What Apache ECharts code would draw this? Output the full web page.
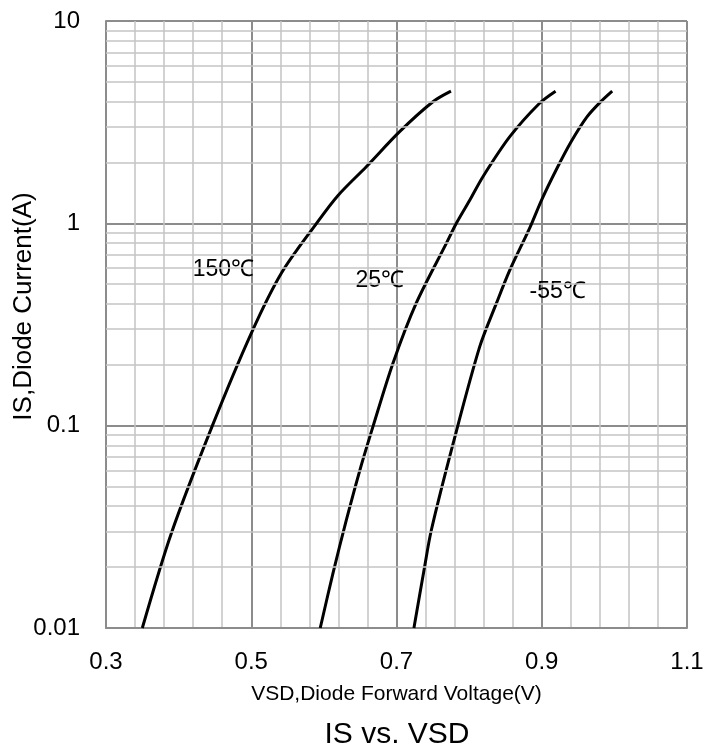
<!DOCTYPE html>
<html>
<head>
<meta charset="utf-8">
<script src="https://cdn.jsdelivr.net/npm/echarts@6/dist/echarts.min.js"></script>
<style>
  html, body { margin: 0; padding: 0; background: #fff; }
  #is-vsd { width: 707px; height: 751px; }
</style>
</head>
<body>
<div id="is-vsd"></div>
<script>
// curve names
const temps = ['150℃', '25℃', '-55℃']

// VSD (V) / IS (A)
const vf150 = [0.35, 0.39, 0.4465, 0.5, 0.5416, 0.5899, 0.6192, 0.6584, 0.7043, 0.7502, 0.775]
const is150 = [0.01, 0.0294, 0.1, 0.286, 0.568, 1.0, 1.37, 1.905, 2.84, 3.99, 4.5]

const vf25 = [0.595, 0.6129, 0.6308, 0.6501, 0.668, 0.695, 0.727, 0.7686, 0.7824, 0.8008, 0.819, 0.856, 0.897, 0.919]
const is25 = [0.01, 0.0189, 0.034, 0.0612, 0.1, 0.203, 0.402, 0.796, 1.0, 1.3, 1.7, 2.68, 3.92, 4.5]

const vfM55 = [0.724, 0.7387, 0.748, 0.778, 0.8145, 0.8375, 0.856, 0.8835, 0.8996, 0.9203, 0.941, 0.962, 0.98, 0.997]
const isM55 = [0.01, 0.0201, 0.0305, 0.0817, 0.245, 0.402, 0.587, 0.95, 1.3, 1.85, 2.55, 3.35, 3.95, 4.5]

// where the temperature labels sit (data coords)
const labelV = [0.4617, 0.677, 0.922]
const labelI = [0.587, 0.519, 0.457]

// x ticks, minor log grid values
const xTicks = [0.3, 0.5, 0.7, 0.9, 1.1]
const minorGrid = [0.02, 0.03, 0.04, 0.05, 0.06, 0.07, 0.08, 0.09,
  0.2, 0.3, 0.4, 0.5, 0.6, 0.7, 0.8, 0.9,
  2, 3, 4, 5, 6, 7, 8, 9]

const font = 'Liberation Sans, Arial, sans-serif'
const pair = (xs, ys) => xs.map((x, i) => [x, ys[i]])

function curve(name, xs, ys) {
  return {
    name: name,
    type: 'line',
    data: pair(xs, ys),
    smooth: 0.3,
    showSymbol: false,
    z: 3,
    lineStyle: { color: '#000', width: 3 }
  }
}

let myChart = echarts.init(document.getElementById('is-vsd'))
myChart.setOption({
  animation: false,
  title: {
    text: 'IS vs. VSD',
    left: 397,
    top: 720,
    padding: 0,
    textAlign: 'center',
    textStyle: { fontFamily: font, fontSize: 30, fontWeight: 'normal', color: '#000' }
  },
  grid: { left: 106, right: 20, top: 21, bottom: 123, outerBoundsMode: 'none', containLabel: false },
  xAxis: {
    type: 'value',
    min: xTicks[0],
    max: xTicks[xTicks.length - 1],
    interval: 0.2,
    name: 'VSD,Diode Forward Voltage(V)',
    nameLocation: 'middle',
    nameGap: 56,
    nameMoveOverlap: false,
    nameTextStyle: { fontFamily: font, fontSize: 21, color: '#000' },
    axisLine: { lineStyle: { color: '#8c8c8c', width: 2 } },
    axisTick: { show: false },
    axisLabel: {
      margin: 22,
      fontFamily: font,
      fontSize: 24,
      color: '#000',
      formatter: v => v.toFixed(1)
    },
    splitLine: { show: true, lineStyle: { color: '#8c8c8c', width: 2 } },
    minorTick: { show: false, splitNumber: 5 },
    minorSplitLine: { show: true, lineStyle: { color: '#c4c4c4', width: 1.5 } }
  },
  yAxis: {
    type: 'log',
    logBase: 10,
    min: 0.01,
    max: 10,
    name: 'IS,Diode Current(A)',
    nameLocation: 'middle',
    nameGap: 69,
    nameMoveOverlap: false,
    nameTextStyle: { fontFamily: font, fontSize: 26, color: '#000', padding: [0, 0, 0, 36] },
    axisLine: { show: true, lineStyle: { color: '#8c8c8c', width: 2 } },
    axisTick: { show: false },
    axisLabel: { margin: 26, fontFamily: font, fontSize: 24, color: '#000' },
    splitLine: { show: true, lineStyle: { color: '#8c8c8c', width: 2 } }
  },
  series: [
    {
      name: 'minor-grid',
      type: 'line',
      data: [[xTicks[0], 0.01]],
      showSymbol: false,
      silent: true,
      z: 1,
      lineStyle: { opacity: 0 },
      markLine: {
        silent: true,
        symbol: 'none',
        label: { show: false },
        lineStyle: { color: '#c4c4c4', width: 1.5, type: 'solid' },
        data: minorGrid.map(v => ({ yAxis: v }))
      }
    },
    curve(temps[0], vf150, is150),
    curve(temps[1], vf25, is25),
    curve(temps[2], vfM55, isM55),
    {
      name: 'labels',
      type: 'scatter',
      symbolSize: 0,
      silent: true,
      z: 4,
      itemStyle: { opacity: 1, color: '#000' },
      data: pair(labelV, labelI),
      label: {
        show: true,
        position: 'inside',
        fontFamily: font,
        fontSize: 23,
        color: '#000',
        opacity: 1,
        textBorderWidth: 0,
        formatter: p => temps[p.dataIndex]
      }
    }
  ]
})
</script>
</body>
</html>
